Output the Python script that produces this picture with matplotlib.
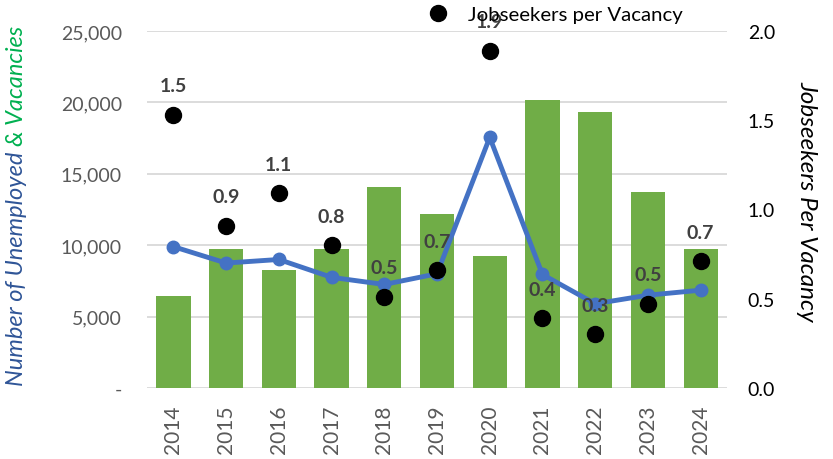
import matplotlib
matplotlib.use("Agg")
import matplotlib.pyplot as plt
from matplotlib.ticker import FuncFormatter

plt.rcParams['font.family'] = ['Lato', 'DejaVu Sans']

# Data
years = ["2014", "2015", "2016", "2017", "2018", "2019", "2020", "2021", "2022", "2023", "2024"]
vacancies = [6450, 9700, 8250, 9700, 14100, 12150, 9250, 20150, 19300, 13700, 9750]
unemployed = [9900, 8750, 9000, 7750, 7250, 8000, 17550, 7950, 5900, 6500, 6850]
ratio = [1.53, 0.91, 1.09, 0.80, 0.51, 0.66, 1.89, 0.39, 0.30, 0.47, 0.71]
ratio_labels = ["1.5", "0.9", "1.1", "0.8", "0.5", "0.7", "1.9", "0.4", "0.3", "0.5", "0.7"]

green = "#70AD47"
blue = "#4472C4"
gray = "#595959"

fig = plt.figure(figsize=(8.33, 4.6), dpi=100)
ax = fig.add_axes([147 / 833, 1 - 389 / 460, 580 / 833, 357 / 460])
x = list(range(len(years)))

ax.bar(x, vacancies, width=0.65, color=green, zorder=2)
ax.plot(x, unemployed, color=blue, lw=3.5, marker="o", ms=9, zorder=3)

ax.set_ylim(0, 25000)
ax.set_xlim(-0.5, len(years) - 0.5)
ax.set_yticks(range(0, 25001, 5000))
ax.yaxis.set_major_formatter(FuncFormatter(lambda v, p: "-" if v == 0 else "{:,.0f}".format(v)))
ax.set_xticks(x)
ax.set_xticklabels(years, rotation=90)
ax.grid(axis="y", color="#D9D9D9", lw=1.3, zorder=0)
ax.tick_params(axis="y", length=0, labelsize=14, colors=gray, pad=18)
ax.tick_params(axis="x", length=0, labelsize=15, colors=gray, pad=12)
for s in ax.spines.values():
    s.set_visible(False)

# Right axis: jobseekers per vacancy
ax2 = ax.twinx()
ax2.plot(x, ratio, "o", color="black", ms=11.5, zorder=4, label="Jobseekers per Vacancy")
for xi, r, lab in zip(x, ratio, ratio_labels):
    ax2.annotate(lab, (xi, r), xytext=(0, 21), textcoords="offset points",
                 ha="center", va="center", fontsize=14, fontweight="bold", color="#404040")
ax2.set_ylim(0, 2.0)
ax2.set_yticks([0, 0.5, 1.0, 1.5, 2.0])
ax2.yaxis.set_major_formatter(FuncFormatter(lambda v, p: "{:.1f}".format(v)))
ax2.tick_params(length=0, labelsize=14, colors="black", pad=15)
for s in ax2.spines.values():
    s.set_visible(False)

ax2.legend(loc="center left", bbox_to_anchor=(428 / 833, 1 - 15 / 460), bbox_transform=fig.transFigure,
           frameon=False, fontsize=14.7, handlelength=1, handletextpad=0.96,
           borderpad=0, borderaxespad=0)

# Axis titles
fig.text(807 / 833, 1 - 201 / 460, "Jobseekers Per Vacancy", rotation=270, style="italic",
         fontsize=17.5, ha="center", va="center")

fig.canvas.draw()
r = fig.canvas.get_renderer()
t1 = fig.text(17 / 833, 1 - 386 / 460, "Number of Unemployed ", rotation=90, style="italic",
              fontsize=17, color="#2F5597", ha="center", va="bottom")
bb = t1.get_window_extent(r)
fig.text(17 / 833, bb.y1 / fig.bbox.height, "& Vacancies", rotation=90, style="italic",
         fontsize=17, color="#00B050", ha="center", va="bottom")

fig.savefig("out.png", dpi=100)
